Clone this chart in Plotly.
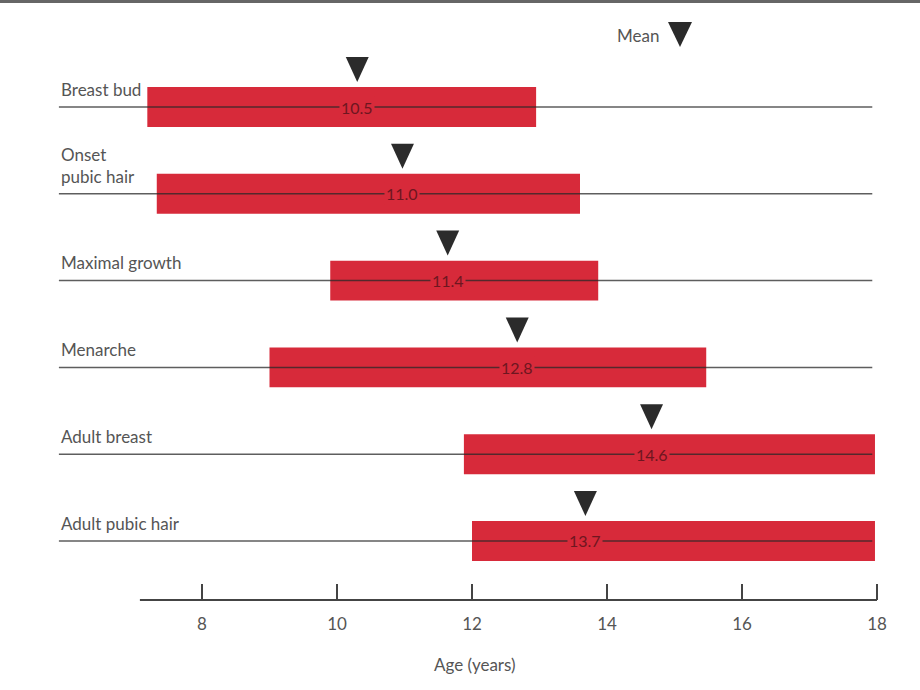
import plotly.graph_objects as go

# Pubertal milestones: ranges (years) and mean ages
events = ["Breast bud", "Onset<br>pubic hair", "Maximal growth", "Menarche",
          "Adult breast", "Adult pubic hair"]
range_start = [7.19, 7.33, 9.90, 9.00, 11.88, 12.00]
range_end = [12.95, 13.60, 13.87, 15.47, 17.97, 17.97]
mean_pos = [10.30, 10.97, 11.64, 12.67, 14.66, 13.68]
mean_text = ["10.5", "11.0", "11.4", "12.8", "14.6", "13.7"]
age_ticks = [8, 10, 12, 14, 16, 18]

RED = "#D72A3A"
GREY = "#555555"
FONT = "Lato"

# page body has an 8px margin, so the figure is slightly smaller than the window
W, H = 912, 682
PLOT_H = 592


def px(sx):
    return (sx - 8) / W


def py(sy):
    return 1 - (sy - 8) / PLOT_H


rows = list(range(len(events)))
fig = go.Figure()

# red range bars
fig.add_trace(go.Bar(
    y=rows, base=range_start,
    x=[e - s for s, e in zip(range_start, range_end)],
    orientation="h", width=0.46,
    marker=dict(color=RED, line=dict(width=0)),
    showlegend=False, hoverinfo="skip"
))

# thin lines running through each row
lx, ly = [], []
for r in rows:
    lx += [5.88, 17.93, None]
    ly += [r, r, None]
fig.add_trace(go.Scatter(
    x=lx, y=ly, mode="lines",
    line=dict(color="rgba(40,40,40,0.75)", width=1.5),
    showlegend=False, hoverinfo="skip"
))

# mean triangles and values
for r, m, t in zip(rows, mean_pos, mean_text):
    fig.add_shape(
        type="path",
        path=f"M {m-0.17},{r-0.576} L {m+0.17},{r-0.576} L {m},{r-0.288} Z",
        fillcolor="#2b2b2b", line=dict(width=0)
    )
    fig.add_annotation(
        x=m, y=r, text=t, showarrow=False, bgcolor=RED, borderpad=1,
        font=dict(family=FONT, size=16, color="#6e1620")
    )

# row labels
for r, name in zip(rows, events):
    fig.add_annotation(
        x=px(59), xref="paper", y=r - 0.06, text=name, showarrow=False,
        xanchor="left", yanchor="bottom", align="left",
        font=dict(family=FONT, size=17, color=GREY)
    )

# "Mean" key
fig.add_annotation(
    x=px(661), xref="paper", y=py(35), yref="paper", text="Mean",
    showarrow=False, xanchor="right", yanchor="middle",
    font=dict(family=FONT, size=17, color=GREY)
)
fig.add_shape(
    type="path", xref="paper", yref="paper",
    path=f"M {px(668)},{py(22)} L {px(692)},{py(22)} L {px(680)},{py(47)} Z",
    fillcolor="#2b2b2b", line=dict(width=0)
)

# axis baseline
fig.add_shape(type="line", x0=7.08, x1=18.0, y0=0, y1=0, yref="paper",
              line=dict(color="#444444", width=2))

fig.add_annotation(
    x=12.05, y=py(664), yref="paper", text="Age (years)", showarrow=False,
    yanchor="middle", font=dict(family=FONT, size=17, color=GREY)
)

fig.update_layout(
    width=W, height=H,
    margin=dict(l=0, r=0, t=0, b=H - PLOT_H),
    plot_bgcolor="white", paper_bgcolor="white",
    xaxis=dict(range=[5.126, 18.637], tickvals=age_ticks, ticks="inside",
               ticklen=16, tickwidth=1.5, tickcolor="#444444",
               ticklabelstandoff=12,
               tickfont=dict(family=FONT, size=17, color=GREY),
               showgrid=False, zeroline=False, showline=False),
    yaxis=dict(range=[5.680, -1.141], showticklabels=False, showgrid=False,
               zeroline=False, showline=False),
)

# dark page edge along the top of the scan
fig.write_html(
    "out.html",
    post_script="document.body.style.background="
                "'linear-gradient(#666 0px, #666 3px, #fff 3px) no-repeat';"
)
